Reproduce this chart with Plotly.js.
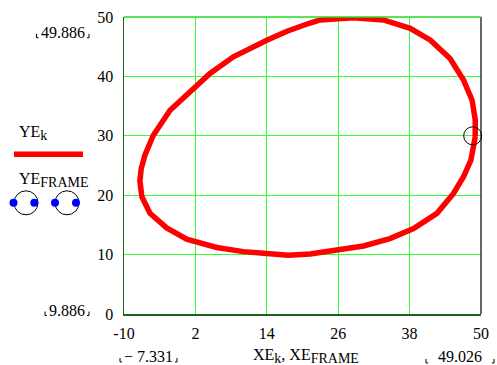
<!DOCTYPE html>
<html>
<head>
<meta charset="utf-8">
<script src="https://cdn.plot.ly/plotly-3.0.1.min.js"></script>
<style>html,body{margin:0;padding:0;background:#fff;}#chart{width:497px;height:365px;}</style>
</head>
<body>
<div id="chart"></div>
<script>
// Curve XE_k, YE_k (closed loop)
const XE = [49.03, 49.03, 48.5, 47.06, 44.8, 41.5, 38.1, 33.6, 28.57, 22.96, 21.0, 17.4, 14.0, 8.38, 4.46, 1.66, -2.26, -5.07, -6.47, -7.1, -7.33, -7.0, -5.63, -2.82, 0.54, 5.58, 10.06, 14.0, 17.6, 21.28, 25.77, 30.25, 34.7, 38.66, 42.6, 45.38, 47.06, 48.3, 49.03];
const YE = [29.85, 32.7, 36.0, 39.4, 43.0, 46.1, 48.1, 49.5, 49.89, 49.5, 48.9, 47.6, 46.1, 43.3, 40.5, 38.0, 34.3, 30.1, 26.8, 24.5, 22.4, 19.75, 16.95, 14.5, 12.6, 11.2, 10.5, 10.2, 9.89, 10.1, 10.66, 11.45, 12.7, 14.4, 16.95, 20.3, 23.1, 25.9, 29.85];
// Frame point
const XE_FRAME = [48.6];
const YE_FRAME = [30.0];
// Axis ticks
const xTicks = [-10, 2, 14, 26, 38, 50];
const yTicks = [0, 10, 20, 30, 40, 50];
// Range labels
const yMaxLabel = "49.886", yMinLabel = "9.886", xMinLabel = "\u2212 7.331", xMaxLabel = "49.026";

const L = 124, R = 481, T = 16.7, B = 314, W = 497, H = 365;
const px = x => (x - L) / (R - L);
const py = y => (B - y) / (B - T);
const font = {family: "Liberation Serif", size: 16, color: "#000"};
const sub = s => `<sub><span style="font-size:14px">${s}</span></sub>`;

function ann(text, x, y, xa) {
  return {text: text, xref: "paper", yref: "paper", x: px(x), y: py(y), xanchor: xa || "center", yanchor: "middle", showarrow: false, font: font};
}
function mark(x, y, dir) {
  // small Mathcad placeholder corner marks
  return {type: "path", xref: "paper", yref: "paper",
    path: `M ${px(x)},${py(y - 4)} L ${px(x)},${py(y)} L ${px(x + dir * 2)},${py(y)}`,
    line: {color: "#000", width: 1}};
}
function circ(cx, cy, r, color, fill) {
  return {type: "circle", xref: "paper", yref: "paper", x0: px(cx - r), x1: px(cx + r), y0: py(cy + r), y1: py(cy - r),
    line: {color: color, width: fill ? 0 : 1}, fillcolor: fill ? color : "rgba(0,0,0,0)"};
}

const traces = [
  {x: XE, y: YE, mode: "lines", line: {color: "#ff0000", width: 5.5}, showlegend: false, cliponaxis: false},
  {x: XE_FRAME, y: YE_FRAME, mode: "markers", marker: {symbol: "circle-open", size: 18, color: "#000", line: {width: 1, color: "#000"}}, showlegend: false, cliponaxis: false}
];

const layout = {
  width: W, height: H,
  margin: {l: L, r: W - R, t: T, b: H - B, pad: 0},
  paper_bgcolor: "#fff", plot_bgcolor: "#fff",
  showlegend: false,
  font: font,
  xaxis: {range: [-10, 50], tickvals: xTicks, ticktext: xTicks.map(v => v < 0 ? "-" + Math.abs(v) : String(v)),
    showgrid: true, gridcolor: "#33ff33", gridwidth: 1, zeroline: false,
    showline: true, linecolor: "#1f5f1f", linewidth: 1.5, ticks: "", ticklabelstandoff: 4, tickfont: font, fixedrange: true},
  yaxis: {range: [0, 50], tickvals: yTicks, showgrid: true, gridcolor: "#33ff33", gridwidth: 1, zeroline: false,
    showline: true, linecolor: "#1f5f1f", linewidth: 1.5, ticks: "", ticklabelstandoff: 6, tickfont: font, fixedrange: true},
  shapes: [
    {type: "line", xref: "paper", yref: "paper", x0: 1, x1: 1, y0: 0, y1: 1, line: {color: "#000", width: 1.2}},
    {type: "line", xref: "paper", yref: "paper", x0: 0, x1: 1, y0: 1, y1: 1, line: {color: "#22dd22", width: 1.5}},
    mark(36.5, 37.5, 1), mark(89, 37.5, -1),
    mark(45, 315.5, 1), mark(89, 315.5, -1),
    mark(120, 362, 1), mark(177, 362, -1),
    mark(426, 363, 1), mark(494, 363, -1),
    // legend line for YE_k
    {type: "line", xref: "paper", yref: "paper", x0: px(14), x1: px(83), y0: py(154), y1: py(154), line: {color: "#ff0000", width: 5.5}},
    // legend symbols for YE_FRAME
    circ(26, 202.7, 12, "#000", false), circ(13.5, 202.7, 4, "#0000ff", true), circ(34.3, 202.7, 4, "#0000ff", true),
    circ(67, 202.7, 12, "#000", false), circ(55, 202.7, 4, "#0000ff", true), circ(76, 202.7, 4, "#0000ff", true)
  ],
  annotations: [
    ann(yMaxLabel, 63, 32),
    ann(yMinLabel, 67, 310),
    ann(xMinLabel, 148, 357),
    ann(xMaxLabel, 460, 357),
    ann("XE" + sub("k") + ", XE" + sub("FRAME"), 306, 356),
    ann("YE" + sub("k"), 17, 133, "left"),
    ann("YE" + sub("FRAME"), 17, 180, "left")
  ]
};

Plotly.newPlot("chart", traces, layout, {displayModeBar: false, staticPlot: true});
</script>
</body>
</html>
